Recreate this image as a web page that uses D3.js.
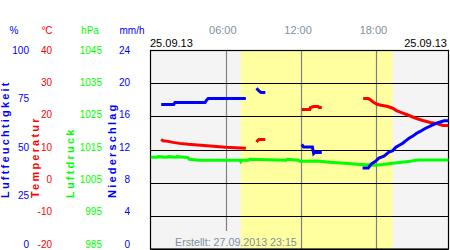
<!DOCTYPE html>
<html><head><meta charset="utf-8">
<script src="https://cdn.jsdelivr.net/npm/d3@7"></script>
<style>
body{margin:0;background:#fff;}
text{font-family:"Liberation Sans",Arial,sans-serif;}
</style></head>
<body>
<svg id="c" width="450" height="250"></svg>
<script>
// ---- data ----
const humTimes = [0.85,1.85,1.95,4.35,4.45,4.6,7.6,8.0,8.45,8.6,8.8,9.15,9.5,12.05,12.2,12.9,13.0,13.1,13.65,14.0,16.9,17.35,17.6,17.9,18.2,18.6,19.0,19.3,19.55,19.85,20.1,20.35,20.6,20.9,21.15,21.45,21.85,22.4,22.9,23.4,23.9];
const humValues = [72.9,72.9,73.9,73.9,74.9,75.9,75.9,null,81,79.9,78.9,78.9,null,52.8,51.5,51.5,48.2,48.8,48.8,null,40.9,40.9,43,44.2,45.9,46.9,49,49.7,51.4,52.5,53.4,54.7,55.9,57,58.2,59.2,60.7,62.4,63.7,64.7,64.7];
const tempTimes = [0.85,1.0,1.4,1.8,2.3,3.0,4.0,5.0,6.0,7.6,8.0,8.45,8.55,8.65,9.15,9.5,12.05,12.7,12.75,13.0,13.35,13.45,13.65,14.0,16.95,17.35,17.5,17.8,18.1,18.5,18.9,19.3,19.6,20.0,20.4,20.8,21.2,21.7,22.3,22.8,23.3,23.9];
const tempValues = [13.2,12.8,12.6,12.3,12.0,11.7,11.4,11.1,10.8,10.5,null,12.4,12.9,13.2,13.2,null,22.2,22.2,22.8,23.1,23.1,22.8,22.8,null,25.5,25.5,25.2,24.3,23.7,23.4,23.1,22.6,21.9,21.3,20.7,20.1,19.5,18.9,18.3,18.0,17.4,17.4];
const presTimes = [0,0.5,0.6,1.3,1.4,2.0,2.1,3.0,3.1,3.8,7.15,7.2,7.3,7.8,7.9,10.8,10.9,11.8,11.9,13.25,14.3,15.5,16.45,17.9,18.5,19.3,20.0,20.7,21.3,24];
const presValues = [1012.8,1012.8,1013.0,1012.8,1013.0,1012.8,1013.0,1012.7,1012.2,1011.9,1011.9,1011.5,1011.9,1011.9,1012.2,1011.9,1012.2,1011.9,1011.6,1011.7,1011.3,1011.0,1010.7,1010.4,1010.6,1011.0,1011.3,1011.6,1012.0,1012.0];
const humTicks = [100,75,50,25,0];
const tempTicks = [40,30,20,10,0,-10,-20];
const presTicks = [1045,1035,1025,1015,1005,995,985];
const precTicks = [24,20,16,12,8,4,0];
const timeTicks = [6,12,18];
const timeLabels = ["06:00","12:00","18:00"];
const dayStart = 7.2, dayEnd = 19.3;
const dateLabel = "25.09.13";
const createdLabel = "Erstellt: 27.09.2013 23:15";

// ---- drawing ----
const svg = d3.select("#c");
const L = 150.5, R = 448.5, T = 50.5, B = 249.5;
const x = d3.scaleLinear().domain([0,24]).range([150.5, 451.7]);
const yT = d3.scaleLinear().domain([-20,40]).range([B,T]);
const yH = d3.scaleLinear().domain([0,100]).range([B,T]);
const yP = d3.scaleLinear().domain([985,1045]).range([B,T]);
const lab = d3.scaleLinear().domain([0,6]).range([50,244]);

svg.append("defs").append("clipPath").attr("id","clip")
  .append("rect").attr("x",L).attr("y",T).attr("width",R-L).attr("height",B-T);

svg.append("rect").attr("x",L).attr("y",T).attr("width",R-L).attr("height",B-T).attr("fill","#f4f4f4");
svg.append("rect").attr("x",x(dayStart)).attr("y",T).attr("width",x(dayEnd)-x(dayStart)).attr("height",B-T).attr("fill","#ffffa0");

// vertical grid
svg.selectAll(".vg").data(timeTicks).enter().append("line")
  .attr("x1",d=>Math.round(x(d))+0.5).attr("x2",d=>Math.round(x(d))+0.5)
  .attr("y1",T).attr("y2",(d,i)=>i===0?231:B)
  .attr("stroke","#808080").attr("stroke-width",1.2);
// horizontal grid
svg.selectAll(".hg").data(tempTicks).enter().append("line")
  .attr("x1",L).attr("x2",R)
  .attr("y1",d=>Math.round(yT(d)-0.5)+0.5).attr("y2",d=>Math.round(yT(d)-0.5)+0.5)
  .attr("stroke","#000").attr("stroke-width",1.2);
svg.append("rect").attr("x",L).attr("y",T).attr("width",R-L).attr("height",B-T-0.5)
  .attr("fill","none").attr("stroke","#000").attr("stroke-width",1.2);

const g = svg.append("g").attr("clip-path","url(#clip)");
function series(times, vals, ys, color){
  const pts = times.map((t,i)=>[t, vals[i]]);
  const line = d3.line().defined(d=>d[1]!==null).x(d=>x(d[0])).y(d=>ys(d[1]));
  g.append("path").attr("d",line(pts)).attr("fill","none")
    .attr("stroke",color).attr("stroke-width",3).attr("stroke-linejoin","miter");
}
series(presTimes, presValues, yP, "#00ff00");
series(tempTimes, tempValues, yT, "#ff0000");
series(humTimes, humValues, yH, "#0000ff");

// time labels
svg.selectAll(".tl").data(timeTicks).enter().append("text")
  .attr("x",d=>x(d)-3).attr("y",33.5).attr("text-anchor","middle")
  .attr("font-size",11).attr("fill","#8090a0").text((d,i)=>timeLabels[i]);
svg.append("text").attr("x",150).attr("y",47).attr("font-size",11).attr("fill","#000").text(dateLabel);
svg.append("text").attr("x",447).attr("y",47).attr("font-size",11).attr("fill","#000").attr("text-anchor","end").text(dateLabel);
svg.append("text").attr("x",175).attr("y",246).attr("font-size",10.7).attr("fill","#8090a0").text(createdLabel);

// header units
const heads = [["%",14,"#0000ff"],["°C",47,"#ff0000"],["hPa",90,"#00ff00"],["mm/h",132,"#0000ff"]];
svg.selectAll(".hd").data(heads).enter().append("text")
  .attr("x",d=>d[1]).attr("y",34).attr("text-anchor","middle").attr("font-size",10)
  .attr("fill",d=>d[2]).text(d=>d[0]);

// axis labels
function axisCol(ticks, xr, color, n){
  svg.selectAll(null).data(ticks).enter().append("text")
    .attr("x",xr).attr("y",(d,i)=>lab(i*n)+3.6).attr("text-anchor","end").attr("font-size",10)
    .attr("fill",color).text(d=>d);
}
axisCol(humTicks, 29, "#0000ff", 1.5);
axisCol(tempTicks, 52, "#ff0000", 1);
axisCol(presTicks, 102, "#00ff00", 1);
axisCol(precTicks, 130, "#0000ff", 1);

// rotated titles
const titles = [["Luftfeuchtigkeit",9,"#0000ff"],["Temperatur",39.3,"#ff0000"],["Luftdruck",74,"#00ff00"],["Niederschlag",116,"#0000ff"]];
svg.selectAll(".ti").data(titles).enter().append("text")
  .attr("transform",d=>`translate(${d[1]},198) rotate(-90)`)
  .attr("font-size",11).attr("font-weight","bold").attr("letter-spacing",2.2)
  .attr("fill",d=>d[2]).text(d=>d[0]);
</script>
</body></html>
